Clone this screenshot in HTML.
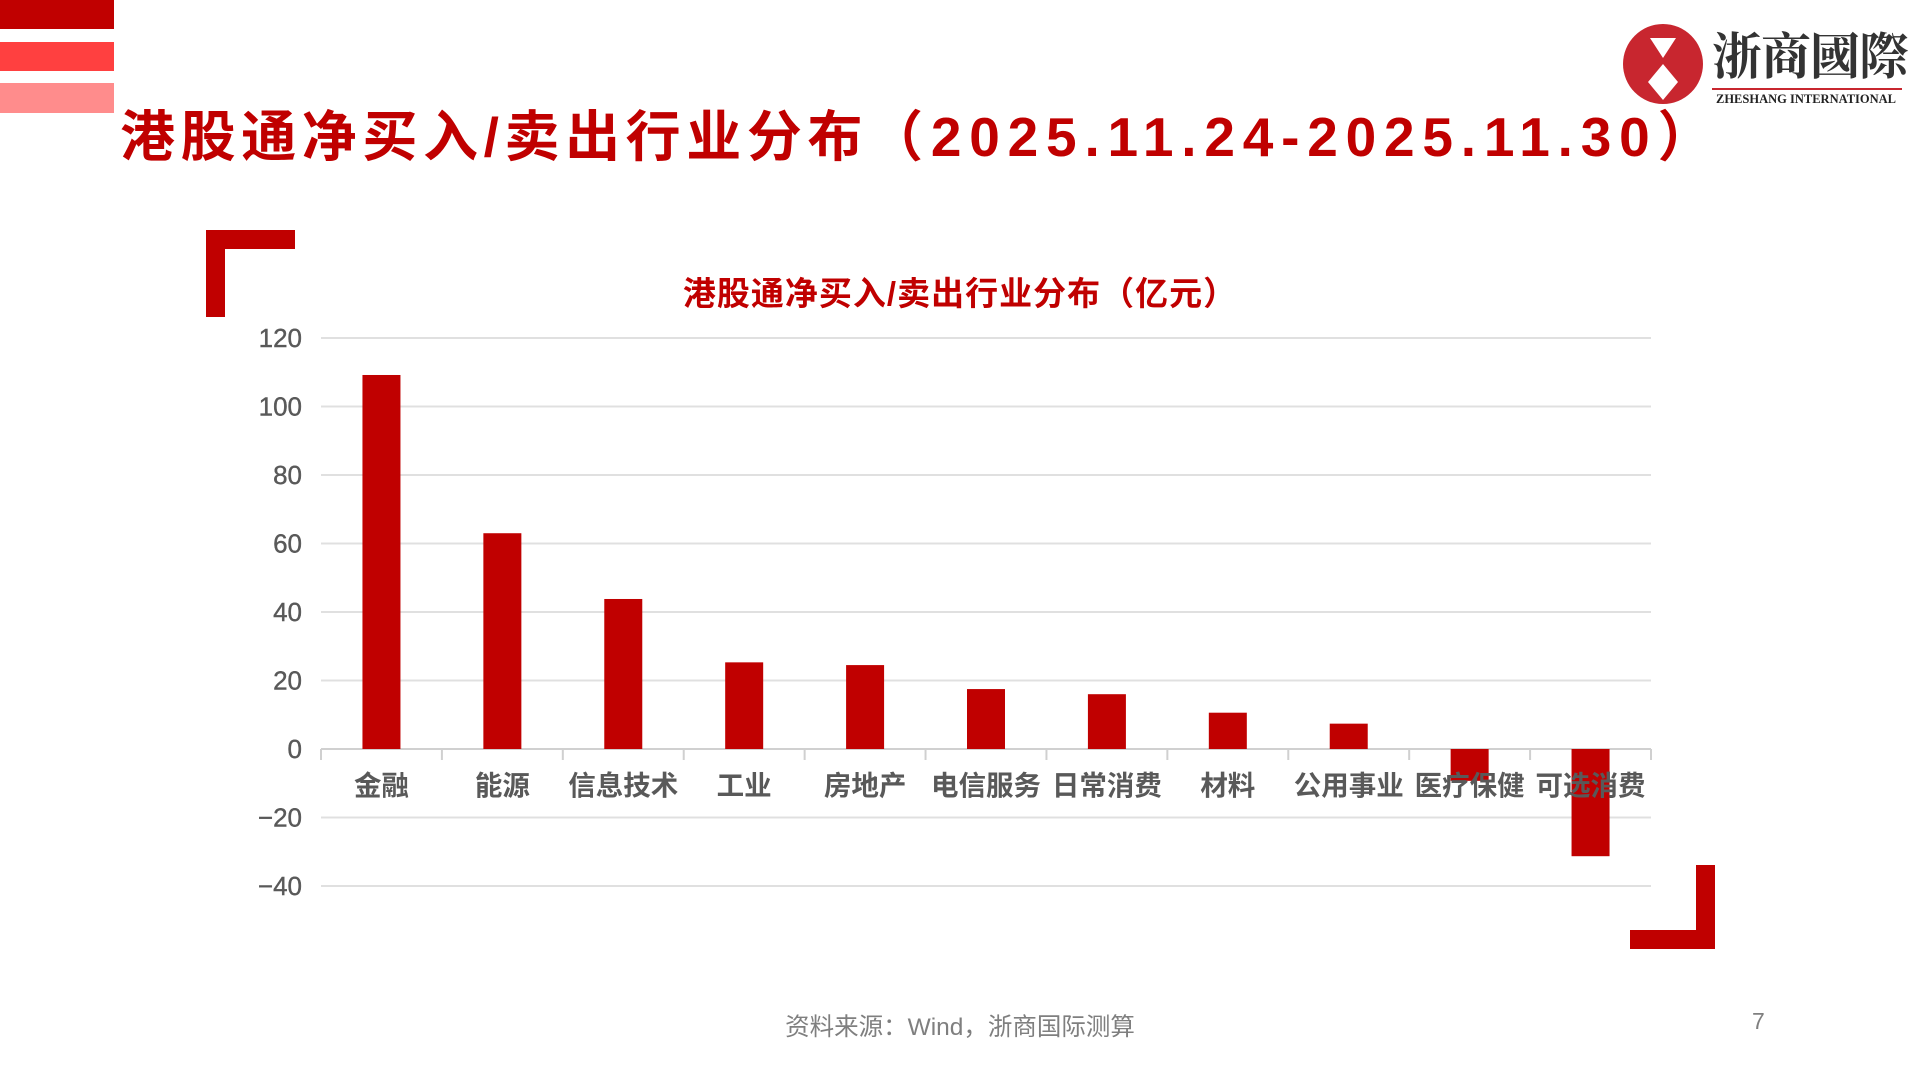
<!DOCTYPE html>
<html><head><meta charset="utf-8"><style>
body{margin:0;width:1920px;height:1080px;background:#fff;position:relative;overflow:hidden;font-family:"Liberation Sans","Noto Sans CJK SC",sans-serif}
.a{position:absolute}
</style></head><body>
<div class="a" style="left:0;top:0;width:114px;height:29px;background:#c00000"></div>
<div class="a" style="left:0;top:42px;width:114px;height:29px;background:#ff4040"></div>
<div class="a" style="left:0;top:83px;width:114px;height:30px;background:#ff8c8c"></div>
<div class="a" style="left:120px;top:104px;font-size:55px;font-weight:bold;color:#c00000;white-space:nowrap;line-height:66px;letter-spacing:5.6px">港股通净买入/卖出行业分布<span style="letter-spacing:7.8px">（2025.11.24-2025.11.30）</span></div>
<div class="a" style="left:1620px;top:20px;width:300px;height:90px">
<svg width="300" height="90"><circle cx="43" cy="44" r="40" fill="#c8262f"/><path d="M30 18 L56 18 L43 38 Z M43 44 L58 62 L43 80 L28 62 Z" fill="#fff"/><line x1="92" y1="69" x2="282" y2="69" stroke="#c8262f" stroke-width="2"/></svg>
<div class="a" style="left:92px;top:0;font-size:50px;font-weight:bold;color:#333;font-family:'Noto Serif CJK SC',serif;line-height:66px;white-space:nowrap;letter-spacing:-1px">浙商國際</div>
<div class="a" style="left:96px;top:72px;font-size:12.5px;color:#222;font-family:'Liberation Serif',serif;font-weight:bold;white-space:nowrap">ZHESHANG INTERNATIONAL</div>
</div>
<div class="a" style="left:206px;top:230px;width:19px;height:87px;background:#c00000"></div>
<div class="a" style="left:206px;top:230px;width:89px;height:19px;background:#c00000"></div>
<div class="a" style="left:1696px;top:865px;width:19px;height:84px;background:#c00000"></div>
<div class="a" style="left:1630px;top:930px;width:85px;height:19px;background:#c00000"></div>
<div class="a" style="left:0;width:1920px;top:267px;text-align:center;font-size:33px;font-weight:bold;color:#c00000;letter-spacing:1px">港股通净买入/卖出行业分布（亿元）</div>
<svg class="a" style="left:0;top:0" width="1920" height="1080" id="chart"></svg>
<div class="a" style="left:0;width:1920px;top:1008px;text-align:center;font-size:24.5px;color:#7f7f7f">资料来源：Wind，浙商国际测算</div>
<div class="a" style="left:1752px;top:1008px;font-size:23px;color:#7f7f7f">7</div>
<script>
const categories=["金融","能源","信息技术","工业","房地产","电信服务","日常消费","材料","公用事业","医疗保健","可选消费"];
const values=[109.2,63.0,43.8,25.3,24.5,17.5,16.0,10.6,7.4,-9.3,-31.3];
const yTicks=[120,100,80,60,40,20,0,-20,-40];
const ns="http://www.w3.org/2000/svg",svg=document.getElementById('chart');
const X0=321,X1=1651,Y120=338,Y0=749;
const y=v=>Y0-(v/120)*(Y0-Y120);
const bw=(X1-X0)/categories.length;
const x=i=>X0+bw*i;
function mk(t,a){const e=document.createElementNS(ns,t);for(const k in a)e.setAttribute(k,a[k]);svg.appendChild(e);return e;}
yTicks.forEach(t=>{
 const l=mk('line',{x1:X0,x2:X1,y1:y(t),y2:y(t),stroke:t===0?'#d0d0d0':'#e0e0e0','stroke-width':2});
 
 
 const tx=mk('text',{x:302,y:y(t)+9,'text-anchor':'end','font-size':26,fill:'#595959','font-family':'Liberation Sans, sans-serif','stroke':'#595959','stroke-width':0.4});
 tx.textContent=t<0?'−'+(-t):t;
 
 
});
for(let i=0;i<=categories.length;i++){
 const l=mk('line',{x1:x(i),x2:x(i),y1:Y0,y2:Y0+11,stroke:'#d0d0d0','stroke-width':2});
 
 
}
values.forEach((v,i)=>{
 const r=mk('rect',{x:x(i)+bw/2-19,width:38,y:Math.min(y(v),Y0),height:Math.abs(y(v)-Y0),fill:'#c00000'});
 
 
});
categories.forEach((c,i)=>{
 const t=mk('text',{x:x(i)+bw/2,y:795,'text-anchor':'middle','font-size':27.5,'font-weight':'bold',fill:'#595959','font-family':'Noto Sans CJK SC, sans-serif'});
 t.textContent=c;
 
 
});
</script>
</body></html>
